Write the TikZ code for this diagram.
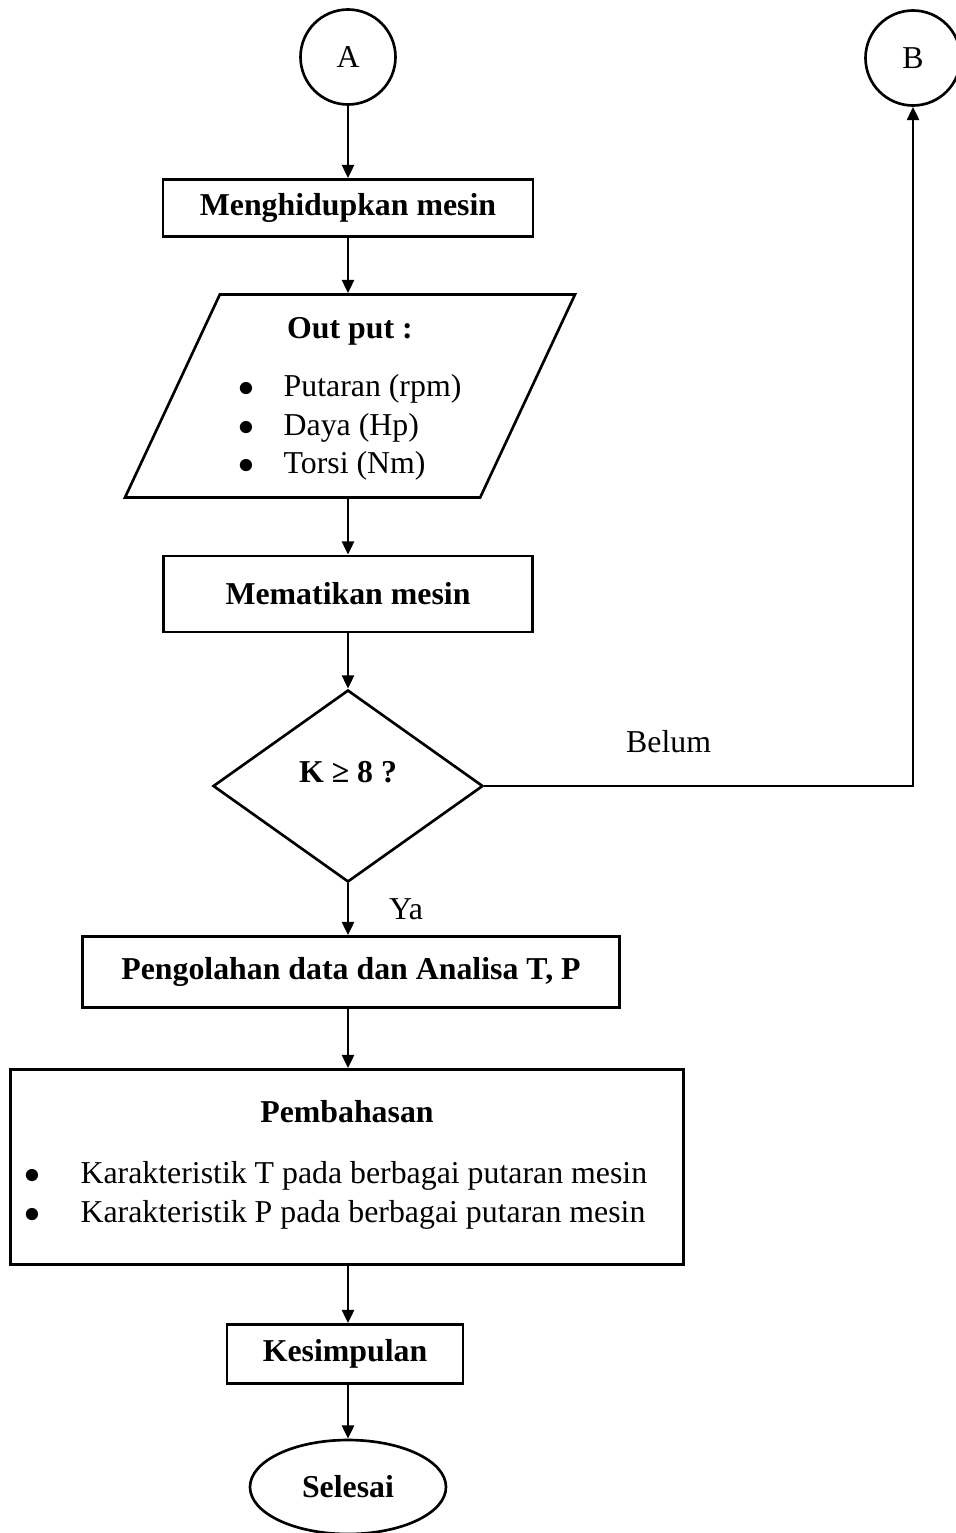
\documentclass[tikz,border=0pt,12pt]{standalone}
\usepackage{fontspec}
\setmainfont{Liberation Serif}
\usetikzlibrary{shapes.geometric,arrows.meta}
\newlength\pxu
\setlength\pxu{0.377pt}
\begin{document}
\begin{tikzpicture}[x=\pxu, y=-\pxu,
        box/.style={draw, line width=1pt, rectangle, inner sep=0pt, align=center},
        conn/.style={draw, line width=1pt, circle, inner sep=0pt, minimum size=95\pxu},
        arr/.style={line width=1pt, -{Triangle[length=5pt, width=4.5pt]}}]
        \useasboundingbox (0, 0) rectangle (956, 1533);

        \node[conn] (A) at (348, 57) {A};
        \node[conn] (B) at (913, 58) {B};

        \node[box, font=\bfseries, minimum width=370\pxu, minimum height=57\pxu] (on) at (348, 208) {Menghidupkan mesin};

        \node[draw, line width=1pt, trapezium, trapezium left angle=62, trapezium right angle=118,
            trapezium stretches body, inner sep=0pt, align=center,
            minimum width=450\pxu, minimum height=203\pxu] (out) at (350, 396)
            {\rule{0pt}{12pt}\textbf{Out put :}\\[7.4pt]
            \begin{tabular}[t]{@{}l@{\hspace{11pt}}l@{}}
                $\bullet$ & Putaran (rpm)\\
                $\bullet$ & Daya (Hp)\\
                $\bullet$ & Torsi (Nm)
            \end{tabular}};

        \node[box, font=\bfseries, minimum width=369\pxu, minimum height=76\pxu] (off) at (348, 594) {Mematikan mesin};

        \node[draw, line width=1pt, diamond, inner sep=0pt, font=\bfseries,
            minimum width=270\pxu, minimum height=192\pxu] (dec) at (348, 786)
            {\raisebox{28\pxu}{K ≥ 8 ?}};

        \node[box, font=\bfseries, minimum width=537\pxu, minimum height=71\pxu] (proc) at (351, 972) {Pengolahan data dan Analisa T, P};

        \node[box, minimum width=673\pxu, minimum height=195\pxu] (disc) at (347, 1167)
            {\textbf{Pembahasan}\\[8.5pt]
            \begin{tabular}[t]{@{}l@{\hspace{15pt}}l@{}}
                $\bullet$ & Karakteristik T pada berbagai putaran mesin\\
                $\bullet$ & Karakteristik P pada berbagai putaran mesin
            \end{tabular}\hspace*{22\pxu}};

        \node[box, font=\bfseries, minimum width=236\pxu, minimum height=59\pxu] (concl) at (345, 1354) {Kesimpulan};

        \node[draw, line width=1pt, ellipse, inner sep=0pt, font=\bfseries,
            minimum width=196\pxu, minimum height=94\pxu] (end) at (348, 1487) {Selesai};

        \draw[arr] (A) -- (on);
        \draw[arr] (on) -- (on |- out.north);
        \draw[arr] (on |- out.south) -- (off);
        \draw[arr] (off) -- (dec);
        \draw[arr] (dec) -- node[right=11pt] (ya) {Ya} (dec |- proc.north);
        \draw[arr] (dec.east) -| node[pos=0.215, above=8pt] (belum) {Belum} (B);
        \draw[arr] (dec |- proc.south) -- (dec |- disc.north);
        \draw[arr] (dec |- disc.south) -- (dec |- concl.north);
        \draw[arr] (dec |- concl.south) -- (end);

    \end{tikzpicture}
\end{document}
